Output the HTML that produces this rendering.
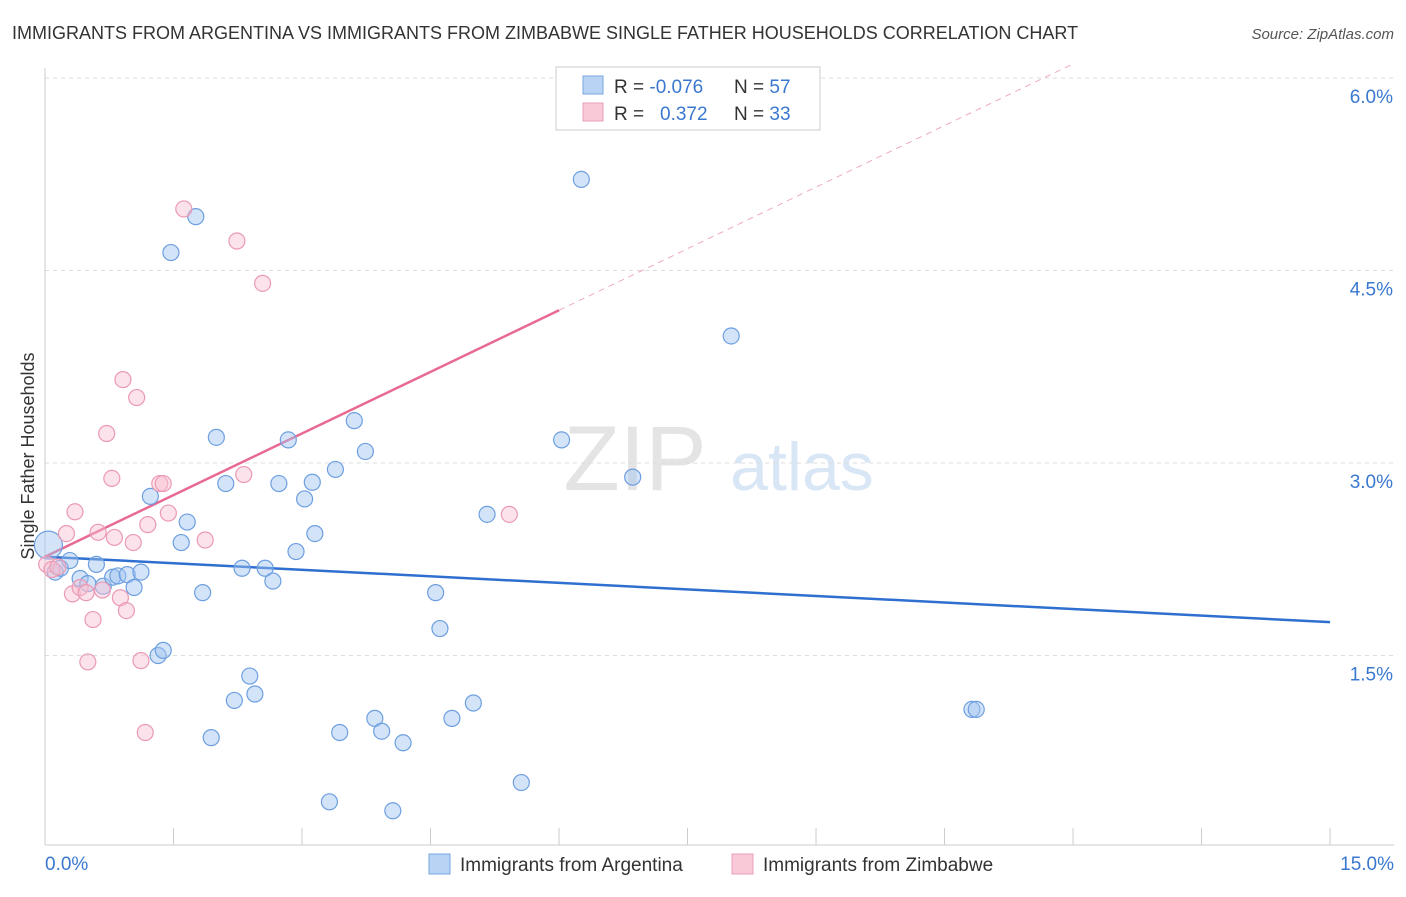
<!DOCTYPE html>
<html><head><meta charset="utf-8"><style>
body{margin:0;background:#fff;font-family:"Liberation Sans",sans-serif;}
svg text{font-family:"Liberation Sans",sans-serif;}
</style></head><body>
<svg id="chart" width="1406" height="892">
<text x="12" y="39" font-size="18" fill="#333">IMMIGRANTS FROM ARGENTINA VS IMMIGRANTS FROM ZIMBABWE SINGLE FATHER HOUSEHOLDS CORRELATION CHART</text>
<text x="1394" y="39" font-size="15" fill="#555" font-style="italic" text-anchor="end">Source: ZipAtlas.com</text>
<g><text x="635" y="490" font-size="92" fill="#e4e4e4" text-anchor="middle" font-family="Liberation Serif">ZIP</text><text x="802" y="490" font-size="68" fill="#d8e6f6" text-anchor="middle">atlas</text></g>
<g id="grid"></g><g id="axes"></g><g id="trend"></g><g id="pts"></g>
<text transform="translate(34,456) rotate(-90)" font-size="18" fill="#333" text-anchor="middle">Single Father Households</text>
<g>
<rect x="556" y="67" width="264" height="63" fill="#fff" stroke="#ccc"/>
<rect x="583" y="76" width="20" height="18" fill="#b8d3f3" stroke="#7aa7e0"/>
<rect x="583" y="103" width="20" height="18" fill="#f9c9d7" stroke="#eaa0b8"/>
<text x="614" y="93" font-size="19" fill="#333">R = <tspan fill="#3a78d0">-0.076</tspan></text>
<text x="734" y="93" font-size="19" fill="#333">N = <tspan fill="#3a78d0">57</tspan></text>
<text x="614" y="120" font-size="19" fill="#333">R = <tspan fill="#3a78d0" x="660">0.372</tspan></text>
<text x="734" y="120" font-size="19" fill="#333">N = <tspan fill="#3a78d0">33</tspan></text>
</g>
<g>
<rect x="429" y="854" width="21" height="20" fill="#b8d3f3" stroke="#7aa7e0"/>
<text x="460" y="871" font-size="19" fill="#333">Immigrants from Argentina</text>
<rect x="732" y="854" width="21" height="20" fill="#f9c9d7" stroke="#eaa0b8"/>
<text x="763" y="871" font-size="19" fill="#333">Immigrants from Zimbabwe</text>
</g>
</svg>
<script>
const xTicks=[0,1.5,3,4.5,6,7.5,9,10.5,12,13.5,15];
const yTicks=[1.5,3.0,4.5,6.0];
const yTickLabels=["1.5%","3.0%","4.5%","6.0%"];
const xEndLabels=["0.0%","15.0%"];
const argX=[0.04,0.12,0.18,0.29,0.41,0.50,0.60,0.68,0.79,0.85,0.96,1.04,1.12,1.23,1.32,1.38,1.47,1.59,1.66,1.76,1.84,1.94,2.00,2.11,2.21,2.30,2.39,2.45,2.57,2.66,2.73,2.84,2.93,3.03,3.12,3.15,3.32,3.39,3.44,3.61,3.74,3.85,3.93,4.06,4.18,4.56,4.61,4.75,5.00,5.16,5.56,6.03,6.26,6.86,8.01,10.82,10.87];
const argY=[2.36,2.15,2.18,2.24,2.10,2.06,2.21,2.04,2.11,2.12,2.13,2.03,2.15,2.74,1.50,1.54,4.64,2.38,2.54,4.92,1.99,0.86,3.20,2.84,1.15,2.18,1.34,1.20,2.18,2.08,2.84,3.18,2.31,2.72,2.85,2.45,0.36,2.95,0.90,3.33,3.09,1.01,0.91,0.29,0.82,1.99,1.71,1.01,1.13,2.60,0.51,3.18,5.21,2.89,3.99,1.08,1.08];
const zimX=[0.02,0.08,0.15,0.25,0.32,0.35,0.41,0.48,0.50,0.56,0.62,0.67,0.72,0.78,0.81,0.88,0.91,0.95,1.03,1.07,1.12,1.17,1.20,1.34,1.38,1.44,1.62,1.87,2.24,2.32,2.54,5.42];
const zimY=[2.21,2.17,2.19,2.45,1.98,2.62,2.03,1.99,1.45,1.78,2.46,2.01,3.23,2.88,2.42,1.95,3.65,1.85,2.38,3.51,1.46,0.90,2.52,2.84,2.84,2.61,4.98,2.40,4.73,2.91,4.40,2.60];
const argTrend=[2.27,-0.034]; // intercept, slope
const zimTrend=[2.27,0.32];
const zimSolidEnd=6.0;
const X=v=>45+v*85.67, Y=v=>848-v*128.33;
const NS="http://www.w3.org/2000/svg";
function mk(tag,attrs,parent){const e=document.createElementNS(NS,tag);for(const k in attrs)e.setAttribute(k,attrs[k]);document.getElementById(parent).appendChild(e);return e;}
yTicks.forEach((t,i)=>{
 const l=mk('line',{x1:45,x2:1394,y1:Y(t),y2:Y(t),stroke:'#ddd','stroke-dasharray':'4,4'},'grid');
 
 
 const tx=mk('text',{x:1393,y:Y(t)+25,'font-size':19,fill:'#3a78d0','text-anchor':'end'},'grid');
 tx.textContent=yTickLabels[i];
 
 
});
const ax=mk('line',{x1:45,x2:45,y1:68,y2:845,stroke:'#ccc'},'axes');


const bx=mk('line',{x1:45,x2:1394,y1:845,y2:845,stroke:'#ccc'},'axes');


xTicks.forEach(t=>{
 const l=mk('line',{x1:X(t),x2:X(t),y1:828,y2:845,stroke:'#ccc'},'axes');
 
 
});
[[0,'start',45],[15,'end',1394]].forEach((d,i)=>{
 const t=mk('text',{x:d[2],y:870,'font-size':19,fill:'#3a78d0','text-anchor':d[1]},'axes');
 t.textContent=xEndLabels[i];
 
 
});
const bl=mk('line',{x1:X(0),y1:Y(argTrend[0]),x2:X(15),y2:Y(argTrend[0]+argTrend[1]*15),stroke:'#2f6fd0','stroke-width':2.5},'trend');


const pl=mk('line',{x1:X(0),y1:Y(zimTrend[0]),x2:X(zimSolidEnd),y2:Y(zimTrend[0]+zimTrend[1]*zimSolidEnd),stroke:'#e86a92','stroke-width':2.5},'trend');


const xe=(6.1-zimTrend[0])/zimTrend[1];
const pd=mk('line',{x1:X(zimSolidEnd),y1:Y(zimTrend[0]+zimTrend[1]*zimSolidEnd),x2:X(xe),y2:Y(6.1),stroke:'#eeaabf','stroke-width':1,'stroke-dasharray':'6,5'},'trend');


argX.forEach((x,i)=>{
 const c=mk('circle',{cx:X(x),cy:Y(argY[i]),r:i==0?14:8,fill:'rgba(160,196,240,0.45)',stroke:'#6d9fe0','stroke-width':1.2},'pts');
 
 
});
zimX.forEach((x,i)=>{
 const c=mk('circle',{cx:X(x),cy:Y(zimY[i]),r:8,fill:'rgba(248,190,208,0.45)',stroke:'#eb9ab4','stroke-width':1.2},'pts');
 
 
});
</script>
</body></html>
